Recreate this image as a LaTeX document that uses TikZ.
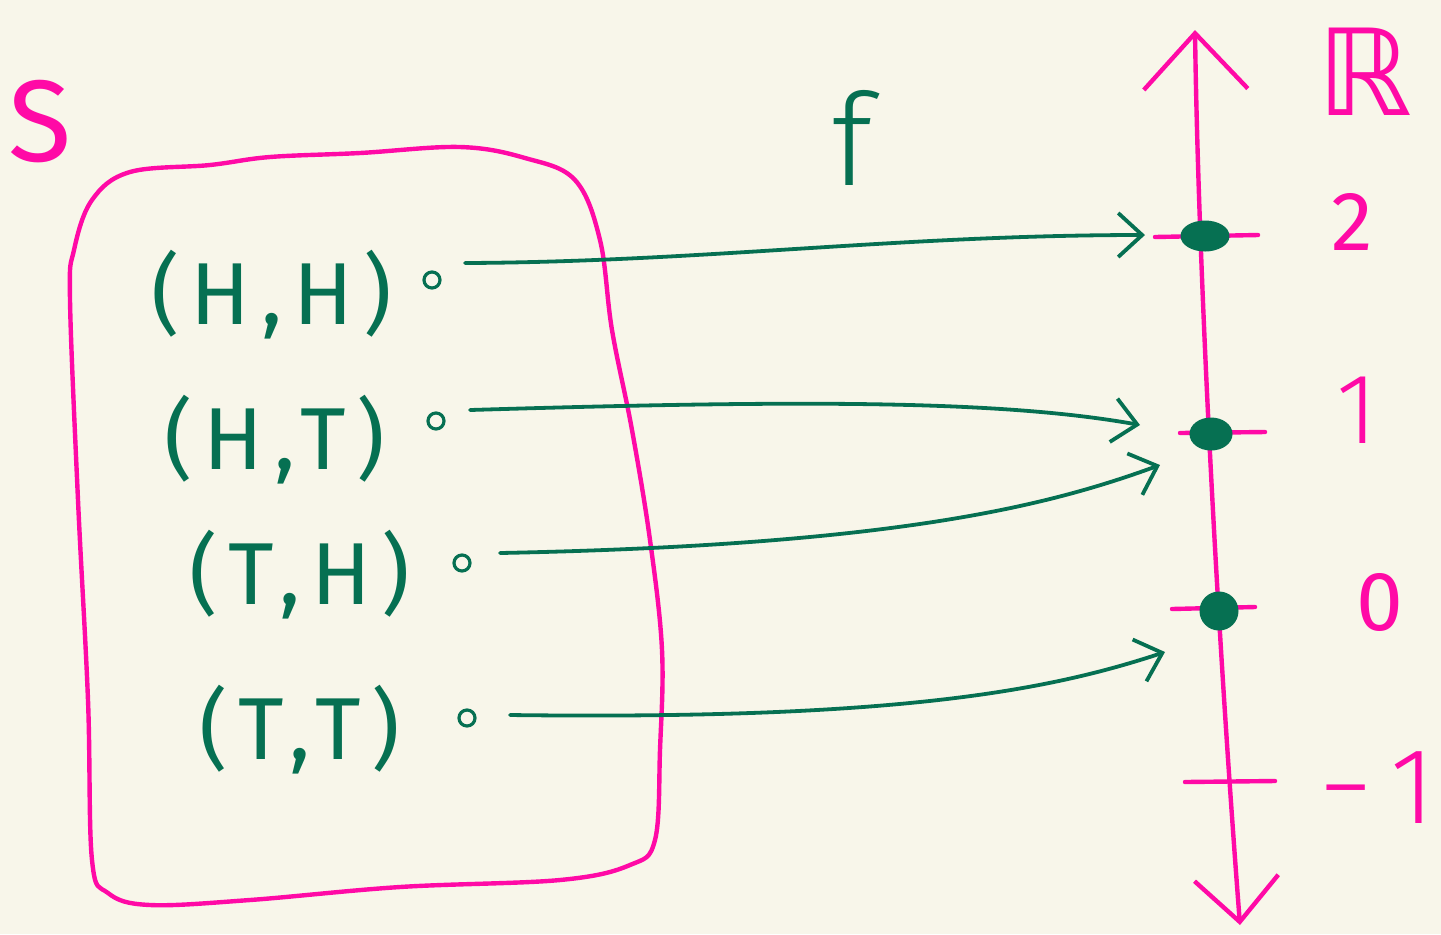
\documentclass[tikz,border=0pt]{standalone}
\usepackage{fontspec}
\setmainfont{Fira Sans}
\newfontfamily\lblfont[LetterSpace=12]{Fira Sans}
\newfontfamily\thinfont{Fira Sans Light}
\newfontfamily\dvfont{DejaVu Sans}
\usetikzlibrary{arrows.meta,shapes.geometric}
\definecolor{paper}{HTML}{F8F6EA}
\definecolor{pen}{HTML}{FF0AA6}
\definecolor{ink}{HTML}{067052}
\tikzset{
  pinkline/.style={draw=pen,line width=2.2pt,line cap=round,line join=round},
  greenline/.style={draw=ink,line width=1.9pt,line cap=round,line join=round},
  maparrow/.style={greenline,-{Straight Barb[length=12pt,width=22pt,line width=1.9pt]}},
  elem/.style={text=ink,font=\lblfont\fontsize{44}{48}\selectfont,inner sep=0pt},
  numlabel/.style={text=pen,font=\fontsize{44}{48}\selectfont,inner sep=0pt},
  elemdot/.style={circle,draw=ink,line width=1.6pt,minimum size=8pt,inner sep=0pt},
  valuept/.style={ellipse,draw=ink,fill=ink,line width=1.5pt,inner sep=0pt},
}
\begin{document}
\begin{tikzpicture}[x=0.5pt,y=-0.5pt]
  % page
  \fill[paper] (0,0) rectangle (1441,934);
  \useasboundingbox (0,0) rectangle (1441,934);

  % sample space S
  \node[numlabel,font=\fontsize{58}{62}\selectfont] (S) at (40,122) {S};
  \draw[pinkline] plot[smooth cycle,tension=0.6] coordinates {
    (130,172) (210,165) (270,157) (360,153) (460,147) (525,158)
    (575,180) (600,240) (612,330) (632,430) (650,540) (662,650)
    (660,750) (655,840) (630,865) (560,880) (400,887) (250,900)
    (150,905) (108,893) (92,860) (88,700) (78,500) (70,300)
    (74,250) (92,200)};

  % outcomes
  \node[elem] (e1) at (272,295) {(H,H)};
  \node[elem] (e2) at (275,440) {(H,T)};
  \node[elem] (e3) at (300,575) {(T,H)};
  \node[elem] (e4) at (300,730) {(T,T)};
  \node[elemdot] (d1) at (432,280) {};
  \node[elemdot] (d2) at (436,421) {};
  \node[elemdot] (d3) at (462,563) {};
  \node[elemdot] (d4) at (467,718) {};

  % map label
  \node[text=ink,font=\thinfont\fontsize{64}{68}\selectfont,inner sep=0pt] (f) at (852,138) {f};

  % real line
  \coordinate (top) at (1195,30);
  \coordinate (bot) at (1240,925);
  \draw[pinkline,{Straight Barb[length=28pt,width=52pt,line width=2.2pt]}-{Straight Barb[length=22pt,width=42pt,line width=2.2pt]}]
    (top) .. controls (1198,250) and (1215,600) .. (bot);
  \node[text=pen,font=\dvfont\fontsize{60}{64}\selectfont,inner sep=0pt] (R) at (1365,72) {ℝ};

  % ticks
  \coordinate (k2a) at (1155,237); \coordinate (k2b) at (1258,235);
  \coordinate (k1a) at (1180,433); \coordinate (k1b) at (1265,432);
  \coordinate (k0a) at (1172,609); \coordinate (k0b) at (1255,607);
  \coordinate (kma) at (1185,782); \coordinate (kmb) at (1275,781);
  \draw[pinkline] (k2a) -- (k2b);
  \draw[pinkline] (k1a) -- (k1b);
  \draw[pinkline] (k0a) -- (k0b);
  \draw[pinkline] (kma) -- (kmb);
  \node[numlabel,font=\fontsize{42}{46}\selectfont] (n2) at (1352,222) {2};
  \node[numlabel,font=\thinfont\fontsize{50}{54}\selectfont] (n1) at (1357,410) {1};
  \node[numlabel,font=\fontsize{42}{46}\selectfont] (n0) at (1380,602) {0};
  \node[numlabel,font=\thinfont\fontsize{54}{58}\selectfont] (nm) at (1377,788) {−\,1};

  % image points
  \node[valuept,minimum width=23pt,minimum height=14pt] (p2) at (1205,236) {};
  \node[valuept,minimum width=20pt,minimum height=15pt] (p1) at (1211,434) {};
  \node[valuept,minimum width=18pt,minimum height=18pt] (p0) at (1219,611) {};

  % the map f
  \coordinate (s1) at (465,263); \coordinate (t1) at (1145,235);
  \coordinate (s2) at (470,410); \coordinate (t2) at (1140,425);
  \coordinate (s3) at (500,553); \coordinate (t3) at (1160,465);
  \coordinate (s4) at (510,715); \coordinate (t4) at (1165,652);
  \draw[maparrow] (s1) .. controls (700,262) and (900,235) .. (t1);
  \draw[maparrow] (s2) .. controls (800,400) and (1000,400) .. (t2);
  \draw[maparrow] (s3) .. controls (900,545) and (1050,505) .. (t3);
  \draw[maparrow] (s4) .. controls (900,720) and (1050,690) .. (t4);
\end{tikzpicture}
\end{document}
